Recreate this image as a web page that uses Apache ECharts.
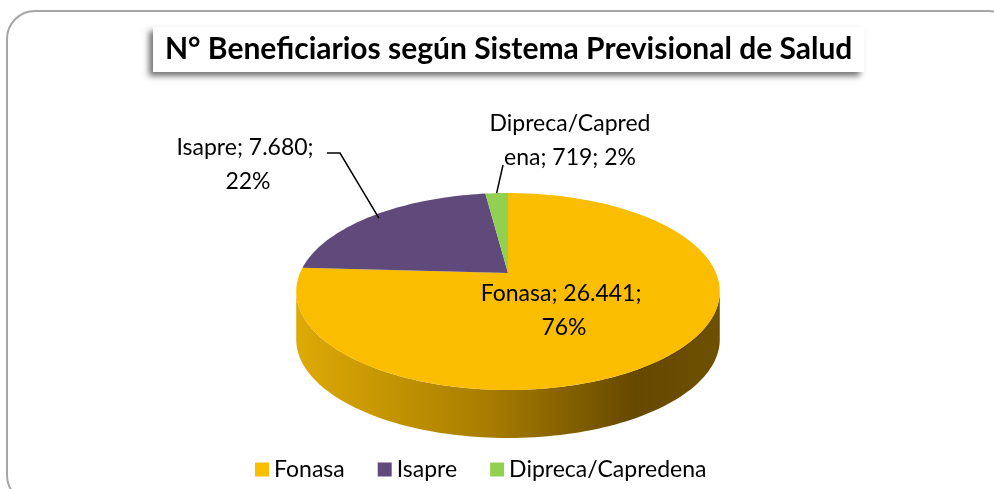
<!DOCTYPE html>
<html>
<head>
<meta charset="utf-8">
<script src="https://cdn.jsdelivr.net/npm/echarts@6/dist/echarts.min.js"></script>
<style>
  html, body { margin: 0; padding: 0; background: #fff; }
  #container { width: 994px; height: 489px; }
</style>
</head>
<body>
<div id="container"></div>
<script>
var categories = ['Fonasa', 'Isapre', 'Dipreca/Capredena'];
var values = [26441, 7680, 719];
var colors = ['#FABD00', '#604A7B', '#92D050'];

var dom = document.getElementById('container');
var myChart = echarts.init(dom);

// tilted pie geometry (px), perspective factor and wall height
var cx = 508, cy = 273, rx = 208, ry = 95, persp = 0.188, depth = 48;
var FONT = 'Lato, "Open Sans", sans-serif';

// where each label sits and how its leader line starts
var labelPos = [
  { x: 564, y: 311, w: 205, overflow: 'break' },
  { x: 248, y: 165, w: 165, overflow: 'break', line: [[327, 153], [340, 153]], r: 0.95 },
  { x: 570, y: 141, w: 168, overflow: 'breakAll', line: [[503, 165]], r: 1 }
];

var total = values.reduce(function (a, b) { return a + b; }, 0);
var starts = [];
var acc = 0;
values.forEach(function (v) { starts.push(acc / total * 360); acc += v; });

function fmt(n) {
  return String(n).replace(/\B(?=(\d{3})+(?!\d))/g, '.');
}

// phi: degrees clockwise from 12 o'clock, r: 0..1
function proj(phi, r) {
  var a = phi * Math.PI / 180;
  var u = r * Math.sin(a), v = -r * Math.cos(a);
  var s = 1 / (1 - persp * v);
  return [cx + rx * u * s, cy + ry * v * s];
}

function arc(a0, a1, r, dy) {
  var pts = [];
  var n = Math.max(2, Math.ceil((a1 - a0) / 1.5));
  for (var j = 0; j <= n; j++) {
    var p = proj(a0 + (a1 - a0) * j / n, r);
    pts.push([p[0], p[1] + (dy || 0)]);
  }
  return pts;
}

function makeRender(i) {
  return function (params, api) {
    var children = [];
    var a0 = starts[i], a1 = a0 + values[i] / total * 360;
    var edge = Math.asin(persp) * 180 / Math.PI;
    var w0 = Math.max(a0, 90 + edge), w1 = Math.min(a1, 270 - edge);
    if (w1 > w0) {
      var top = arc(w0, w1, 1, 0);
      var bot = arc(w0, w1, 1, depth).reverse();
      children.push({
        type: 'polygon',
        shape: { points: top.concat(bot) },
        style: {
          fill: new echarts.graphic.LinearGradient(0, 0, 1, 0, [
            { offset: 0, color: '#DEAA06' },
            { offset: 0.45, color: '#A87D00' },
            { offset: 0.8, color: '#664900' },
            { offset: 1, color: '#6E5000' }
          ])
        }
      });
    }
    children.push({
      type: 'polygon',
      shape: { points: [[cx, cy]].concat(arc(a0, a1, 1, 0)) },
      style: { fill: colors[i] }
    });
    var pct = Math.round(values[i] / total * 100);
    var lp = labelPos[i];
    if (lp.line) {
      children.push({
        type: 'polyline',
        shape: { points: lp.line.concat([proj((a0 + a1) / 2, lp.r)]) },
        style: { stroke: '#000', lineWidth: 1.5, fill: null }
      });
    }
    children.push({
      type: 'text',
      style: {
        text: categories[i] + '; ' + fmt(values[i]) + '; ' + pct + '%',
        x: lp.x, y: lp.y,
        width: lp.w, overflow: lp.overflow,
        align: 'center', verticalAlign: 'middle',
        font: '23px ' + FONT, lineHeight: 34,
        fill: '#000'
      }
    });
    return { type: 'group', children: children };
  };
}

var option = {
  backgroundColor: '#fff',
  title: {
    text: 'N° Beneficiarios según Sistema Previsional de Salud',
    left: 153,
    top: 27,
    padding: [7, 12, 8, 12],
    backgroundColor: '#fff',
    shadowBlur: 6,
    shadowColor: 'rgba(0,0,0,0.55)',
    shadowOffsetX: -4,
    shadowOffsetY: 4,
    textStyle: { fontFamily: FONT, fontSize: 30, fontWeight: 'bold', color: '#000' }
  },
  legend: {
    data: categories,
    left: 250,
    top: 453,
    icon: 'rect',
    itemWidth: 14,
    itemHeight: 14,
    itemGap: 33,
    textStyle: { fontFamily: FONT, fontSize: 23, color: '#000' }
  },
  graphic: [{
    type: 'rect',
    z: -10,
    shape: { x: 7, y: 11, width: 1010, height: 492, r: 28 },
    style: { fill: 'none', stroke: '#A6A6A6', lineWidth: 2 }
  }],
  series: categories.map(function (name, i) {
    return {
      type: 'custom',
      name: name,
      coordinateSystem: 'none',
      silent: true,
      itemStyle: { color: colors[i] },
      data: [[values[i]]],
      renderItem: makeRender(i)
    };
  })
};

if (option && typeof option === 'object') {
  myChart.setOption(option);
}
</script>
</body>
</html>
